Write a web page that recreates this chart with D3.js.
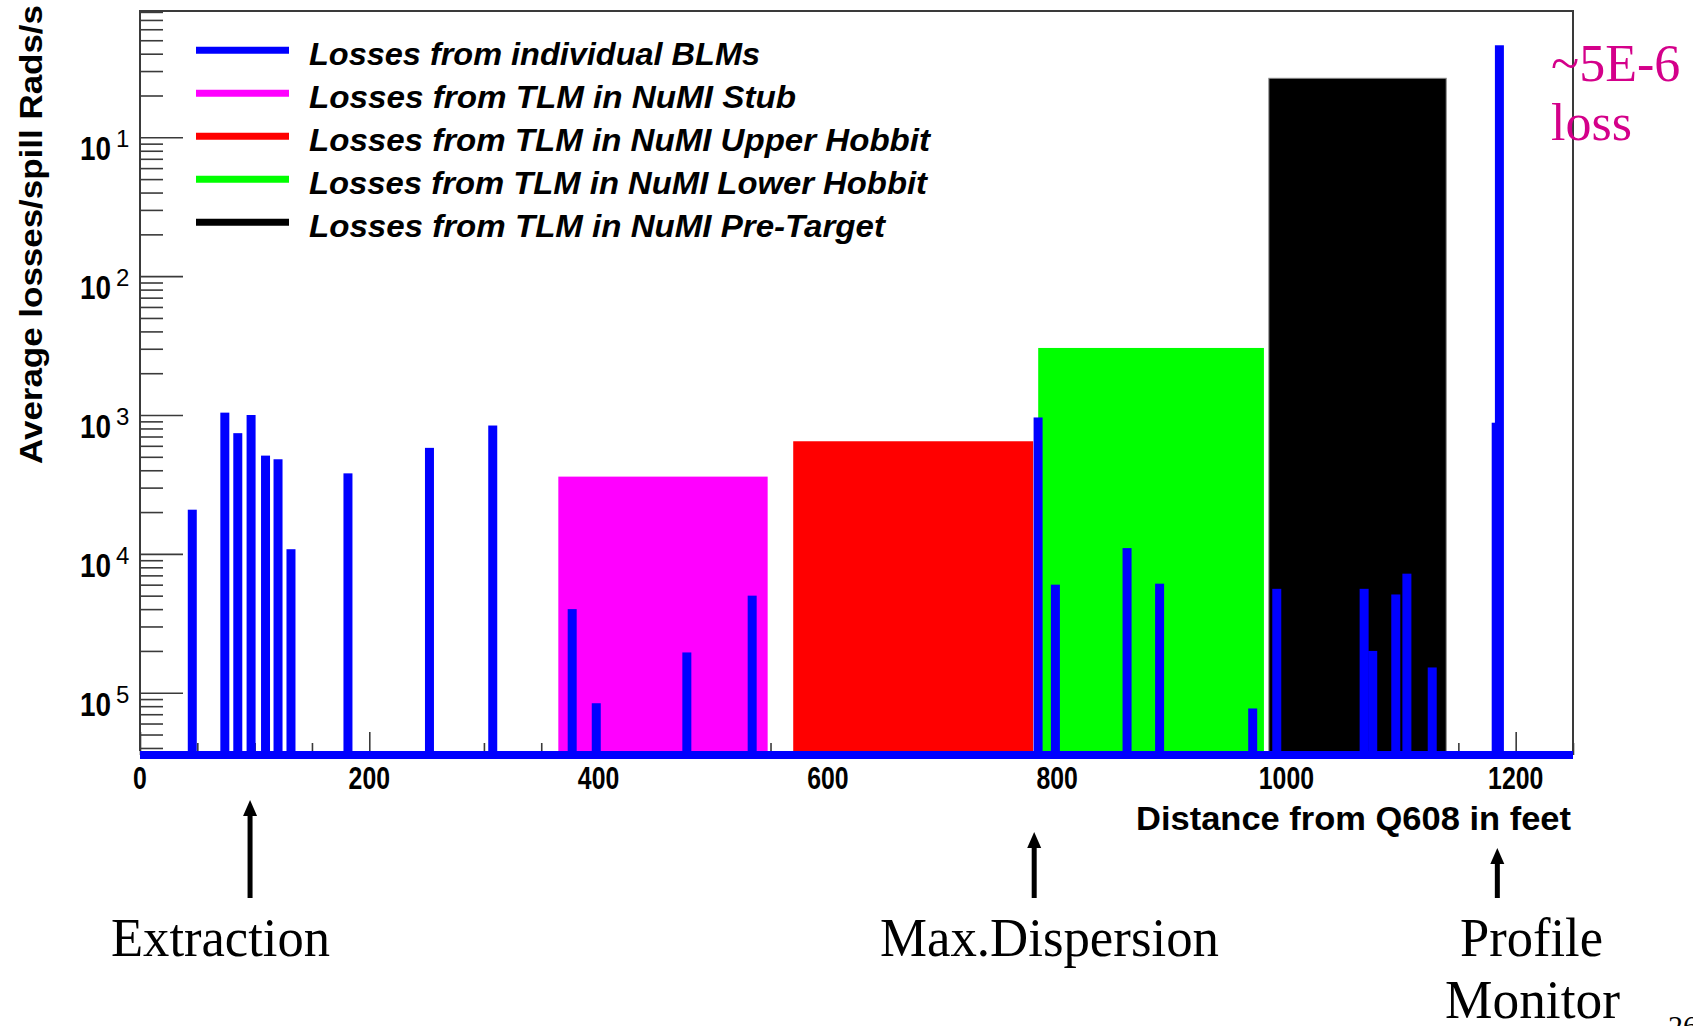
<!DOCTYPE html>
<html><head><meta charset="utf-8">
<script src="https://cdn.jsdelivr.net/npm/d3@7"></script>
<style>html,body{margin:0;padding:0;background:#fff;overflow:hidden}svg{display:block}</style>
</head><body>
<svg id="chart" width="1693" height="1026"></svg>
<script>
// ---------------- data ----------------
const blmPositions = [45.6, 74, 85.3, 96.9, 109.5, 120.4, 131.7, 181.4, 252.5, 307.7,
  377, 398, 477, 534, 783.4, 798.5, 861, 889.4, 970.6, 991.6,
  1067.8, 1075.3, 1095.4, 1105.1, 1127.2, 1183.0, 1185.8];
const blmLosses = [2.08e-4, 1.04e-3, 7.4e-4, 1.0e-3, 5.1e-4, 4.8e-4, 1.08e-4, 3.8e-4, 5.8e-4, 8.4e-4,
  4.0e-5, 8.4e-6, 1.95e-5, 5.0e-5, 9.6e-4, 6.0e-5, 1.1e-4, 6.1e-5, 7.7e-6, 5.6e-5,
  5.6e-5, 2.0e-5, 5.1e-5, 7.2e-5, 1.52e-5, 8.8e-4, 0.46];
const tlmNames = ["NuMI Stub", "NuMI Upper Hobbit", "NuMI Lower Hobbit", "NuMI Pre-Target"];
const tlmStart = [364.9, 569.8, 783.5, 984.7];
const tlmEnd = [547.5, 779.1, 980.4, 1139.4];
const tlmLosses = [3.6e-4, 6.47e-4, 3.04e-3, 0.266];
const legendLabels = ["Losses from individual BLMs", "Losses from TLM in NuMI Stub",
  "Losses from TLM in NuMI Upper Hobbit", "Losses from TLM in NuMI Lower Hobbit",
  "Losses from TLM in NuMI Pre-Target"];
const yTickValues = [1e-1, 1e-2, 1e-3, 1e-4, 1e-5];
const yTickExponents = ["1", "2", "3", "4", "5"];
const xTickValues = [0, 200, 400, 600, 800, 1000, 1200];
const xTickLabels = ["0", "200", "400", "600", "800", "1000", "1200"];
const markerLabels = ["Extraction", "Max.Dispersion", "Profile"];
const markerPositions = [96, 780, 1184];
const noteLines = ["~5E-6", "loss"];

// ---------------- styles / layout ----------------
const colors = { blm: "#0000ff", tlm: ["#ff00ff", "#ff0000", "#00ff00", "#000000"] };
const legendColors = ["#0000ff", "#ff00ff", "#ff0000", "#00ff00", "#000000"];
const legendTextLen = [451, 487, 621, 618, 576];
const markerArrowTop = [800, 832, 848];
const markerTextLen = [219, 339, 143];
const markerTextX = [111, 880, 1460];

const svg = d3.select("#chart");
const L = 140, R = 1573, T = 11, B = 755;
const x = d3.scaleLinear().domain([0, 1250]).range([L, R]);
const y = d3.scaleLog().domain([3.56e-6, 0.812]).range([B, T]);
const axisColor = "#3a3a3a";
const sans = "'Liberation Sans', Arial, sans-serif";
const serif = "'Liberation Serif', 'Times New Roman', serif";

// ---------- ticks (drawn first, under histograms) ----------
const minorY = y.ticks().filter(v => Math.abs(Math.log10(v) - Math.round(Math.log10(v))) > 1e-6);
const gY = svg.append("g").attr("transform", `translate(${L},0)`);
gY.call(d3.axisLeft(y).tickValues(minorY).tickSize(-23).tickFormat(""));
gY.call(g => g.select(".domain").remove());
const gY2 = svg.append("g").attr("transform", `translate(${L},0)`);
gY2.call(d3.axisLeft(y).tickValues(yTickValues).tickSize(-43).tickFormat(""));
gY2.call(g => g.select(".domain").remove());

const minorX = d3.range(0, 1251, 50).filter(v => v % 200 !== 0);
const gX = svg.append("g").attr("transform", `translate(0,${B})`);
gX.call(d3.axisBottom(x).tickValues(minorX).tickSize(-12).tickFormat(""));
gX.call(g => g.select(".domain").remove());
const gX2 = svg.append("g").attr("transform", `translate(0,${B})`);
gX2.call(d3.axisBottom(x).tickValues(xTickValues).tickSize(-23).tickFormat(""));
gX2.call(g => g.select(".domain").remove());
svg.selectAll(".tick line").attr("stroke", axisColor).attr("stroke-width", 1.6);

// ---------- TLM blocks ----------
svg.append("g").selectAll("rect").data(tlmLosses).join("rect")
  .attr("x", (d, i) => x(tlmStart[i]))
  .attr("width", (d, i) => x(tlmEnd[i]) - x(tlmStart[i]))
  .attr("y", d => y(d))
  .attr("height", d => B - y(d))
  .attr("fill", (d, i) => colors.tlm[i])
  .attr("stroke", (d, i) => i === 3 ? "#888" : "none")
  .attr("stroke-width", 1);

// ---------- BLM bars ----------
const barW = 9;
svg.append("g").selectAll("rect").data(blmLosses).join("rect")
  .attr("x", (d, i) => x(blmPositions[i]) - barW / 2)
  .attr("width", barW)
  .attr("y", d => y(d))
  .attr("height", d => B - y(d))
  .attr("fill", colors.blm);

// zero-content baseline of the BLM histogram
svg.append("line").attr("x1", x(0)).attr("x2", x(1250)).attr("y1", B).attr("y2", B)
  .attr("stroke", colors.blm).attr("stroke-width", 8);

// ---------- frame ----------
svg.append("path")
  .attr("d", `M${L},${B - 4} L${L},${T} L${R},${T} L${R},${B - 4}`)
  .attr("fill", "none").attr("stroke", axisColor).attr("stroke-width", 2);

// ---------- axis labels ----------
svg.append("g").selectAll("text").data(yTickValues).join("text")
  .attr("x", 111).attr("y", d => y(d) + 23)
  .attr("text-anchor", "end")
  .attr("font-family", sans).attr("font-weight", "bold").attr("font-size", 33)
  .attr("textLength", 31).attr("lengthAdjust", "spacingAndGlyphs")
  .text("10");
svg.append("g").selectAll("text").data(yTickValues).join("text")
  .attr("x", 116).attr("y", d => y(d) + 10)
  .attr("font-family", sans).attr("font-size", 24)
  .text((d, i) => yTickExponents[i]);

svg.append("g").selectAll("text").data(xTickValues).join("text")
  .attr("x", d => x(d)).attr("y", 789)
  .attr("text-anchor", "middle")
  .attr("font-family", sans).attr("font-weight", "bold").attr("font-size", 31)
  .attr("textLength", (d, i) => xTickLabels[i].length * 13.8)
  .attr("lengthAdjust", "spacingAndGlyphs")
  .text((d, i) => xTickLabels[i]);

svg.append("text")
  .attr("x", 1571).attr("y", 830).attr("text-anchor", "end")
  .attr("font-family", sans).attr("font-weight", "bold").attr("font-size", 33)
  .attr("textLength", 435).attr("lengthAdjust", "spacingAndGlyphs")
  .text("Distance from Q608 in feet");

svg.append("text")
  .attr("transform", "translate(42,5) rotate(-90)")
  .attr("text-anchor", "end")
  .attr("font-family", sans).attr("font-weight", "bold").attr("font-size", 31)
  .attr("textLength", 459).attr("lengthAdjust", "spacingAndGlyphs")
  .text("Average losses/spill Rads/s");

// ---------- legend ----------
const lg = svg.append("g");
legendLabels.forEach((lab, i) => {
  const yy = 50.3 + i * 43;
  lg.append("line").attr("x1", 196).attr("x2", 289).attr("y1", yy).attr("y2", yy)
    .attr("stroke", legendColors[i]).attr("stroke-width", 7);
  lg.append("text").attr("x", 309).attr("y", yy + 15)
    .attr("font-family", sans).attr("font-weight", "bold").attr("font-style", "italic")
    .attr("font-size", 32)
    .attr("textLength", legendTextLen[i]).attr("lengthAdjust", "spacingAndGlyphs")
    .text(lab);
});

// ---------- magenta note ----------
svg.append("g").selectAll("text").data(noteLines).join("text")
  .attr("x", 1551).attr("y", (d, i) => 81 + i * 59)
  .attr("font-family", serif).attr("font-size", 52).attr("fill", "#d4008a")
  .text(d => d);

// ---------- markers below axis ----------
const mk = svg.append("g");
markerPositions.forEach((p, i) => {
  const xx = x(p);
  mk.append("line").attr("x1", xx).attr("x2", xx).attr("y1", markerArrowTop[i] + 12).attr("y2", 898)
    .attr("stroke", "#000").attr("stroke-width", 5);
  mk.append("path")
    .attr("d", `M${xx},${markerArrowTop[i]} L${xx - 7},${markerArrowTop[i] + 16} L${xx + 7},${markerArrowTop[i] + 16} Z`)
    .attr("fill", "#000");
  mk.append("text").attr("x", markerTextX[i]).attr("y", 956)
    .attr("font-family", serif).attr("font-size", 54)
    .attr("textLength", markerTextLen[i]).attr("lengthAdjust", "spacingAndGlyphs")
    .text(markerLabels[i]);
});
mk.append("text").attr("x", 1445).attr("y", 1018)
  .attr("font-family", serif).attr("font-size", 54)
  .attr("textLength", 175).attr("lengthAdjust", "spacingAndGlyphs")
  .text("Monitor");
svg.append("text").attr("x", 1668).attr("y", 1036)
  .attr("font-family", serif).attr("font-size", 30).text("26");
</script>
</body></html>
